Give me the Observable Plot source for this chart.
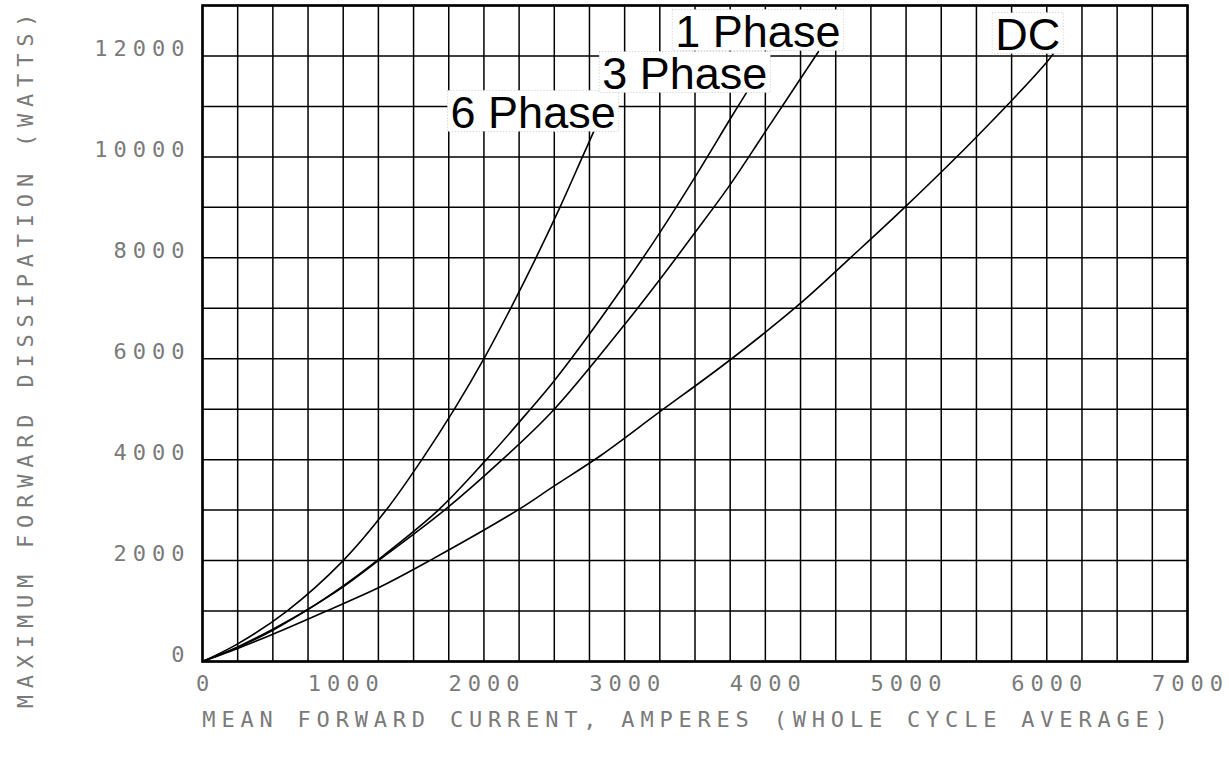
<!DOCTYPE html>
<html>
<head>
<meta charset="utf-8">
<script src="https://cdn.jsdelivr.net/npm/d3@7"></script>
<script src="https://cdn.jsdelivr.net/npm/@observablehq/plot@0.6"></script>
<style>
  html, body { margin: 0; padding: 0; background: white; }
  g[aria-label="x-axis tick label"] text,
  g[aria-label="y-axis tick label"] text { letter-spacing: 6px; }
  g[aria-description="x axis title"] text { letter-spacing: 5.8px; }
  g[aria-description="y axis title"] text { letter-spacing: 6.8px; }
</style>
</head>
<body>
<div id="chart"></div>
<script>
// ---- Data ----
const xTickValues = [0, 1000, 2000, 3000, 4000, 5000, 6000, 7000];
const yTickValues = [0, 2000, 4000, 6000, 8000, 10000, 12000];
const xTitle = "MEAN FORWARD CURRENT, AMPERES (WHOLE CYCLE AVERAGE)";
const yTitle = "MAXIMUM FORWARD DISSIPATION (WATTS)";
const seriesNames = ["6 Phase", "3 Phase", "1 Phase", "DC"];

const phase6Current = [0, 250, 600, 1000, 1305, 1559, 1790, 2000, 2190, 2370, 2540, 2700, 2780];
const phase6Watts   = [0, 350, 1000, 2000, 3000, 4000, 5000, 6000, 7000, 8000, 9000, 10000, 10500];

const phase3Current = [0, 250, 500, 730, 1000, 1240, 1676, 2017, 2330, 2490, 2740, 3000, 3250, 3500, 3750, 3865];
const phase3Watts   = [0, 290, 640, 1000, 1500, 2000, 3000, 4000, 5000, 5530, 6450, 7470, 8500, 9600, 10750, 11270];

const phase1Current = [0, 250, 500, 730, 1000, 1250, 1720, 2130, 2500, 3000, 3250, 3500, 3750, 4000, 4377];
const phase1Watts   = [0, 280, 620, 1000, 1480, 2000, 3000, 4000, 5000, 6677, 7570, 8500, 9450, 10500, 12083];

const dcCurrent = [0, 250, 500, 880, 1250, 1615, 2240, 2500, 2833, 3246, 3737, 4242, 4612, 4990, 5502, 6014, 6060];
const dcWatts   = [0, 260, 540, 1000, 1460, 2000, 3000, 3480, 4087, 4940, 5950, 7080, 8020, 9000, 10400, 11925, 12100];

// ---- Build table ----
const seriesArrays = [
  [seriesNames[0], phase6Current, phase6Watts],
  [seriesNames[1], phase3Current, phase3Watts],
  [seriesNames[2], phase1Current, phase1Watts],
  [seriesNames[3], dcCurrent, dcWatts]
];
const rows = [];
for (const [name, xs, ys] of seriesArrays) {
  xs.forEach((x, i) => rows.push({series: name, current: x, watts: ys[i]}));
}
const endPoints = seriesArrays.map(([name, xs, ys]) => ({series: name, current: xs[xs.length - 1], watts: ys[ys.length - 1]}));

// label offsets (style, not data)
const labelOffset = {"6 Phase": [22, -4], "3 Phase": [21, -4], "1 Phase": [22, -5], "DC": [5, -1]};

const gridXValues = d3.range(0, 7001, 250);
const gridYValues = d3.range(0, 13001, 1000);

const labelMarks = endPoints.map(p => Plot.text([p], {
  x: "current", y: "watts", text: "series",
  textAnchor: "end", lineAnchor: "bottom",
  dx: labelOffset[p.series][0], dy: labelOffset[p.series][1],
  fontFamily: "Liberation Sans, Arial, sans-serif", fontSize: 45,
  fill: "black", ariaDescription: "series label"
}));

const chart = Plot.plot({
  width: 1229,
  height: 765,
  marginLeft: 202,
  marginRight: 42,
  marginTop: 5,
  marginBottom: 104,
  style: {background: "white", fontFamily: "DejaVu Sans Mono, monospace", fontSize: "22px", color: "#7a7a7a", overflow: "visible"},
  x: {domain: [0, 7000]},
  y: {domain: [0, 13000]},
  marks: [
    Plot.gridX(gridXValues, {stroke: "black", strokeOpacity: 1, strokeWidth: 1.5}),
    Plot.gridY(gridYValues, {stroke: "black", strokeOpacity: 1, strokeWidth: 1.5}),
    Plot.frame({stroke: "black", strokeWidth: 2.6}),
    Plot.axisX(xTickValues, {tickSize: 0, tickPadding: 14, dx: 3, label: null, fill: "#7a7a7a", tickFormat: d => String(d)}),
    Plot.axisY(yTickValues, {tickSize: 0, tickPadding: 12, dy: -7, label: null, fill: "#7a7a7a", tickFormat: d => String(d)}),
    Plot.line(rows, {x: "current", y: "watts", z: "series", stroke: "black", strokeWidth: 1.6, curve: "catmull-rom"}),
    ...labelMarks,
    Plot.text([xTitle], {text: d => d, frameAnchor: "bottom", textAnchor: "middle", lineAnchor: "middle", dy: 58, dx: -7, fill: "#7a7a7a", fontSize: 22, ariaDescription: "x axis title"}),
    Plot.text([yTitle], {text: d => d, frameAnchor: "left", textAnchor: "middle", lineAnchor: "middle", rotate: -90, dx: -177, dy: 24, fill: "#7a7a7a", fontSize: 22, ariaDescription: "y axis title"})
  ]
});

document.getElementById("chart").appendChild(chart);

// white boxes behind the series labels
const ns = "http://www.w3.org/2000/svg";
chart.querySelectorAll('g[aria-description="series label"] text').forEach(t => {
  const bb = t.getBBox();
  const baseline = bb.y + 0.905 * 45;
  const r = document.createElementNS(ns, "rect");
  r.setAttribute("x", bb.x - 3);
  r.setAttribute("width", bb.width + 6);
  r.setAttribute("y", baseline - 37);
  r.setAttribute("height", 41);
  r.setAttribute("fill", "white");
  r.setAttribute("stroke", "#c8c8c8");
  r.setAttribute("stroke-dasharray", "1 2");
  r.setAttribute("stroke-width", "1");
  if (t.getAttribute("transform")) r.setAttribute("transform", t.getAttribute("transform"));
  t.parentNode.insertBefore(r, t);
});
</script>
</body>
</html>
